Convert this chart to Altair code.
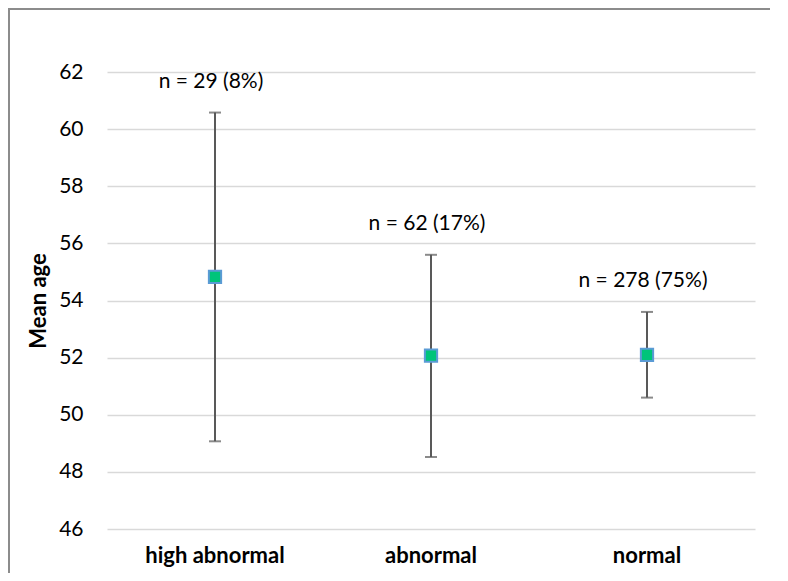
import altair as alt
import pandas as pd

categories = ["high abnormal", "abnormal", "normal"]
mean_age = [54.83, 52.07, 52.1]
upper = [60.58, 55.6, 53.6]
lower = [49.07, 48.52, 50.6]
labels = ["n = 29 (8%)", "n = 62 (17%)", "n = 278 (75%)"]
y_ticks = [46, 48, 50, 52, 54, 56, 58, 60, 62]

df = pd.DataFrame({"cat": categories, "mean": mean_age, "upper": upper,
                   "lower": lower, "label": labels})

FONT = "Lato"
W, H = 648, 457

x = alt.X("cat:N", sort=categories, title=None,
          axis=alt.Axis(labelAngle=0, labelFontWeight="bold", labelFontSize=22,
                        labelColor="#000000", labelPadding=16, ticks=False,
                        domain=False, grid=False, labelFont=FONT))
yscale = alt.Scale(domain=[46, 62], nice=False, zero=False)

base = alt.Chart(df)

rules = base.mark_rule(color="#595959", strokeWidth=2).encode(
    x=x,
    y=alt.Y("lower:Q", scale=yscale, title="Mean age",
            axis=alt.Axis(values=y_ticks, ticks=False, domain=False,
                          labelFontSize=21, labelColor="#000000", labelPadding=24,
                          titleFontSize=22, titleFontWeight="bold",
                          titleColor="#000000", titlePadding=8,
                          gridColor="#d9d9d9", gridWidth=1.5,
                          labelFont=FONT, titleFont=FONT)),
    y2="upper:Q",
)

cap_top = base.mark_tick(color="#595959", thickness=2, size=12, orient="horizontal").encode(
    x=alt.X("cat:N", sort=categories), y=alt.Y("upper:Q", scale=yscale))
cap_bot = base.mark_tick(color="#595959", thickness=2, size=12, orient="horizontal").encode(
    x=alt.X("cat:N", sort=categories), y=alt.Y("lower:Q", scale=yscale))

points = base.mark_square(size=150, fill="#00C47A", stroke="#5B9BD5",
                          strokeWidth=2, opacity=1).encode(
    x=alt.X("cat:N", sort=categories), y=alt.Y("mean:Q", scale=yscale))

texts = base.mark_text(fontSize=21, font=FONT, color="#000000", dy=-31, dx=-4,
                       baseline="middle").encode(
    x=alt.X("cat:N", sort=categories), y=alt.Y("upper:Q", scale=yscale),
    text="label:N")

frame = alt.Data(values=[{"a": 1}])
left_border = alt.Chart(frame).mark_rule(color="#8c8c8c", strokeWidth=2).encode(
    x=alt.value(-98), y=alt.value(-64), y2=alt.value(H + 44))
top_border = alt.Chart(frame).mark_rule(color="#8c8c8c", strokeWidth=2).encode(
    x=alt.value(-99), x2=alt.value(W + 15), y=alt.value(-63))

chart = alt.layer(rules, cap_top, cap_bot, points, texts, left_border, top_border).properties(
    width=W, height=H,
    autosize=alt.AutoSizeParams(type="none"),
    padding={"left": 99, "top": 64, "right": 15, "bottom": 44},
    background="white",
).configure_view(stroke=None)

chart.save("out.html", embed_options={"renderer": "svg", "actions": False})
